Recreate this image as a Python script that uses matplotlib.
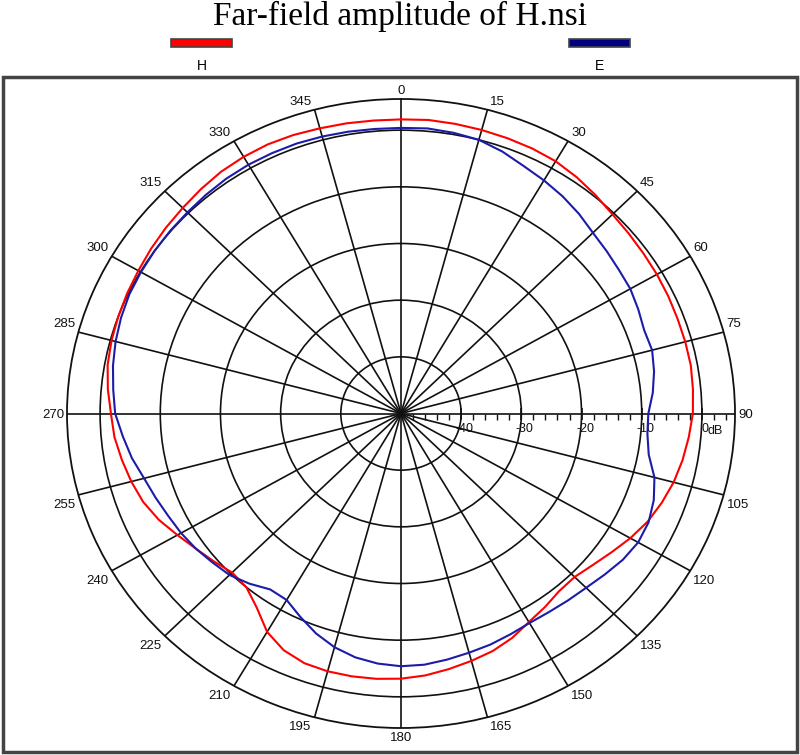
import numpy as np
import matplotlib
matplotlib.use("Agg")
import matplotlib.pyplot as plt
from matplotlib.patches import Rectangle

# ---------------- data ----------------
title = "Far-field amplitude of H.nsi"
series_names = ["H", "E"]
series_colors = ["#ff0000", "#1c1ca8"]
legend_colors = ["#ff0000", "#000080"]

angles_deg = [0, 5, 10, 15, 20, 25, 30, 35, 40, 45, 50, 55, 60, 65, 70, 75, 80, 85,
              90, 95, 100, 105, 110, 115, 120, 125, 130, 135, 140, 145, 150, 155, 160, 165, 170, 175,
              180, 185, 190, 195, 200, 205, 210, 215, 220, 225, 230, 235, 240, 245, 250, 255, 260, 265,
              270, 275, 280, 285, 290, 295, 300, 305, 310, 315, 320, 325, 330, 335, 340, 345, 350, 355]

values_h = [1.9, 2.0, 1.9, 1.8, 1.7, 1.6, 1.4, 0.9, 0.3, -0.3, -0.6, -0.8, -0.9, -1.0, -1.1, -1.1, -1.1, -1.3,
            -1.5, -2.0, -2.5, -3.1, -3.9, -4.8, -6.0, -7.3, -8.4, -9.2, -9.1, -8.3, -7.5, -6.3, -5.4, -4.8, -4.2, -3.6,
            -3.2, -3.0, -2.9, -2.9, -3.1, -3.9, -5.5, -8.2, -10.0, -10.3, -9.4, -8.4, -7.1, -5.6, -4.4, -3.6, -2.9, -2.2,
            -1.8, -1.1, -0.5, -0.2, 0.0, 0.2, 0.4, 0.7, 1.0, 1.3, 1.7, 2.1, 2.3, 2.4, 2.3, 2.1, 2.0, 1.9]

values_e = [0.4, 0.5, 0.3, 0.0, -0.8, -1.8, -2.5, -3.2, -4.0, -4.9, -5.4, -5.8, -6.0, -6.5, -7.0, -6.8, -7.3, -8.0,
            -8.9, -8.9, -8.2, -6.4, -5.3, -4.6, -4.5, -5.0, -5.8, -6.5, -6.9, -7.2, -7.3, -7.0, -6.6, -6.3, -5.9, -5.5,
            -5.4, -5.7, -6.3, -7.3, -8.7, -10.4, -12.0, -12.1, -10.8, -9.7, -9.1, -8.4, -7.8, -7.3, -6.6, -5.8, -4.6, -3.6,
            -2.5, -2.0, -1.4, -0.9, -0.5, -0.2, -0.1, 0.0, 0.1, 0.2, 0.4, 0.6, 0.7, 0.7, 0.7, 0.6, 0.5, 0.4]

angle_ticks = [0, 15, 30, 45, 60, 75, 90, 105, 120, 135, 150, 165,
               180, 195, 210, 225, 240, 255, 270, 285, 300, 315, 330, 345]
angle_minor = [a for a in range(0, 360, 5) if a % 15 != 0]
radial_ticks = [-40, -30, -20, -10, 0]
radial_labels = ["-40", "-30", "-20", "-10", "0"]
radial_minor = [r for r in range(-48, 6, 2) if r % 10 != 0]
r_min, r_max = -50, 5.5

LABEL_FONT = ["Liberation Sans Narrow", "Liberation Sans", "DejaVu Sans"]

# ---------------- figure ----------------
W, H = 800, 755
fig = plt.figure(figsize=(W / 100, H / 100), dpi=100)

cx, cy = 401, 413.5
rx, ry = 334, 314.5
ax = fig.add_axes([(cx - rx) / W, (H - (cy + ry)) / H, 2 * rx / W, 2 * ry / H],
                  projection="polar")
ax.set_aspect("auto")
ax.set_theta_zero_location("N")
ax.set_theta_direction(-1)
ax.set_ylim(r_min, r_max)

ax.set_xticks(np.deg2rad(angle_ticks))
ax.set_xticklabels([])
ax.set_xticks(np.deg2rad(angle_minor), minor=True)
ax.tick_params(axis="x", which="major", length=0)
ax.tick_params(axis="x", which="minor", direction="in", length=6, width=1, color="#111111")
ax.set_yticks(radial_ticks)
ax.set_yticklabels([])
ax.grid(True, color="#111111", lw=1.2)
ax.spines["polar"].set_color("#111111")
ax.spines["polar"].set_linewidth(1.3)

# angle labels just outside the ring (pixel offsets)
px = 72 / fig.dpi
for a in angle_ticks:
    s, c = np.sin(np.deg2rad(a)), np.cos(np.deg2rad(a))
    ha = "left" if s > 0.1 else ("right" if s < -0.1 else "center")
    va = "bottom" if c > 0.1 else ("top" if c < -0.1 else "center")
    dx = 3 * np.sign(s) if abs(s) > 0.1 else 0.5
    dy = 2 if c > 0.1 else (-4 if c < -0.1 else -1)
    ax.annotate(str(a), xy=(np.deg2rad(a), r_max), xytext=(dx * px, dy * px),
                textcoords="offset points", ha=ha, va=va, fontsize=9.5,
                family=LABEL_FONT, color="#111111", annotation_clip=False)

# radial axis ticks along 90 deg
ax.plot([np.pi / 2] * len(radial_minor), radial_minor, ls="none", marker=3, ms=4,
        mew=1, color="#111111", clip_on=False)
ax.plot([np.pi / 2] * len(radial_ticks), radial_ticks, ls="none", marker="|", ms=9,
        mew=1.2, color="#111111", clip_on=False)
for r, lab in zip(radial_ticks, radial_labels):
    ax.annotate(lab, xy=(np.pi / 2, r), xytext=(3.5 * px, -16 * px), textcoords="offset points",
                ha="center", va="center", fontsize=9, family=LABEL_FONT, color="#111111")
ax.annotate("dB", xy=(np.pi / 2, 0), xytext=(6 * px, -17 * px), textcoords="offset points",
            ha="left", va="center", fontsize=9, family=LABEL_FONT, color="#111111")

# curves
for val, col in [(values_h, series_colors[0]), (values_e, series_colors[1])]:
    th = np.deg2rad(np.array(angles_deg + [angles_deg[0] + 360]))
    rr = np.array(val + [val[0]])
    ax.plot(th, rr, color=col, lw=1.5, zorder=5)

# ---------------- title, legend, frame ----------------
fig.text(0.5, 1 - 16 / H, title, ha="center", va="center",
         family=["Liberation Serif", "DejaVu Serif"], fontsize=24)

leg_x = [171, 569]
for name, col, x0 in zip(series_names, legend_colors, leg_x):
    fig.add_artist(Rectangle((x0 / W, 1 - 47 / H), 61 / W, 8 / H, transform=fig.transFigure,
                             facecolor=col, edgecolor="#444444", lw=1.2))
    fig.text((x0 + 31) / W, 1 - 66 / H, name, ha="center", va="center", fontsize=10,
             family=["Liberation Sans", "DejaVu Sans"])

fig.add_artist(Rectangle((3 / W, 1 - 752 / H), 794 / W, 675 / H, transform=fig.transFigure,
                         fill=False, edgecolor="#444444", lw=2.5))

fig.savefig("out.png", dpi=100)
